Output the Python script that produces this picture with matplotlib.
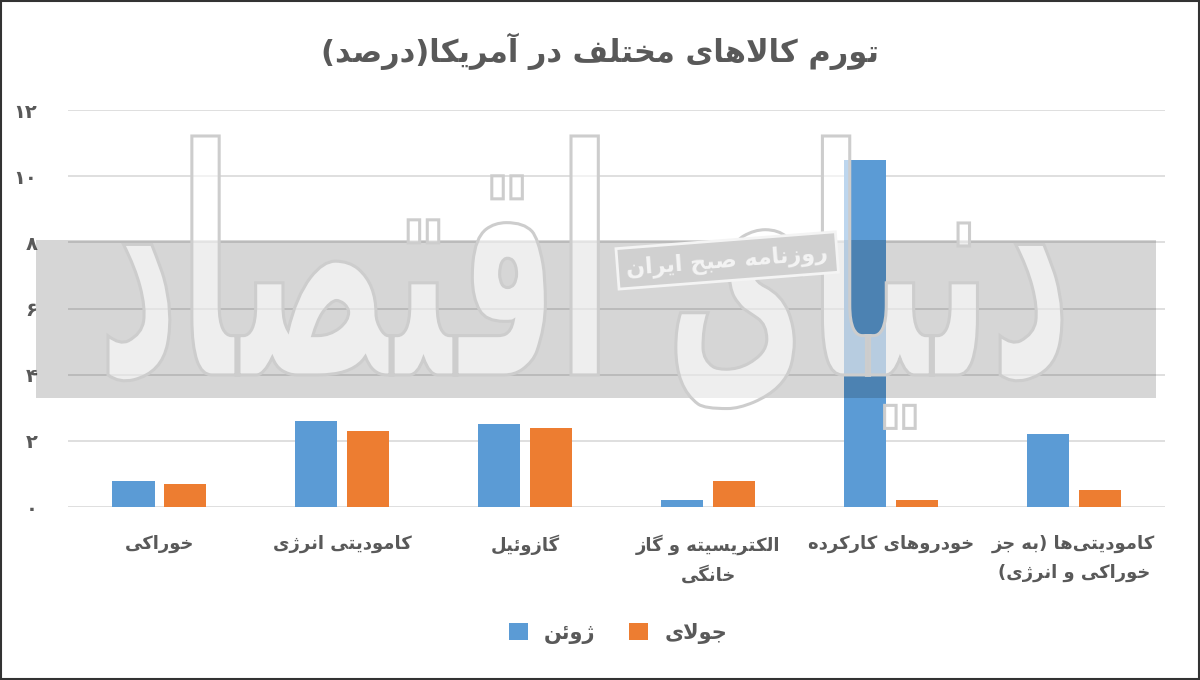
import matplotlib
matplotlib.use('Agg')
import matplotlib.pyplot as plt
from matplotlib.patches import Rectangle, PathPatch
from matplotlib.textpath import TextPath
from matplotlib.font_manager import FontProperties
from matplotlib.transforms import Affine2D
import numpy as np

# ============================================================
# داده‌ها
# ============================================================
categories = [
    'خوراکی',
    'کامودیتی انرژی',
    'گازوئیل',
    'الکتریسیته و گاز\nخانگی',
    'خودروهای کارکرده',
    'کامودیتی‌ها (به جز\nخوراکی و انرژی)',
]
june = [0.8, 2.6, 2.5, 0.2, 10.5, 2.2]
july = [0.7, 2.3, 2.4, 0.8, 0.2, 0.5]
series_names = ['ژوئن', 'جولای']
title = 'تورم کالاهای مختلف در آمریکا(درصد)'
y_ticks = [0, 2, 4, 6, 8, 10, 12]
stamp_text = 'روزنامه صبح ایران'
watermark_text = 'دنیای اقتصاد'

BLUE = '#5b9bd5'
ORANGE = '#ed7d31'
TEXT = '#595959'

# ============================================================
# شکل‌دهی ساده حروف فارسی (matplotlib خودش اتصال حروف را انجام نمی‌دهد)
# ============================================================
FORMS = {
    'ا': ('\uFE8D', '\uFE8E'),
    'آ': ('\uFE81', '\uFE82'),
    'ب': ('\uFE8F', '\uFE90', '\uFE91', '\uFE92'),
    'پ': ('\uFB56', '\uFB57', '\uFB58', '\uFB59'),
    'ت': ('\uFE95', '\uFE96', '\uFE97', '\uFE98'),
    'ج': ('\uFE9D', '\uFE9E', '\uFE9F', '\uFEA0'),
    'ح': ('\uFEA1', '\uFEA2', '\uFEA3', '\uFEA4'),
    'خ': ('\uFEA5', '\uFEA6', '\uFEA7', '\uFEA8'),
    'د': ('\uFEA9', '\uFEAA'),
    'ر': ('\uFEAD', '\uFEAE'),
    'ز': ('\uFEAF', '\uFEB0'),
    'ژ': ('\uFB8A', '\uFB8B'),
    'س': ('\uFEB1', '\uFEB2', '\uFEB3', '\uFEB4'),
    'ص': ('\uFEB9', '\uFEBA', '\uFEBB', '\uFEBC'),
    'ف': ('\uFED1', '\uFED2', '\uFED3', '\uFED4'),
    'ق': ('\uFED5', '\uFED6', '\uFED7', '\uFED8'),
    'ک': ('\uFB8E', '\uFB8F', '\uFB90', '\uFB91'),
    'گ': ('\uFB92', '\uFB93', '\uFB94', '\uFB95'),
    'ل': ('\uFEDD', '\uFEDE', '\uFEDF', '\uFEE0'),
    'م': ('\uFEE1', '\uFEE2', '\uFEE3', '\uFEE4'),
    'ن': ('\uFEE5', '\uFEE6', '\uFEE7', '\uFEE8'),
    'و': ('\uFEED', '\uFEEE'),
    'ه': ('\uFEE9', '\uFEEA', '\uFEEB', '\uFEEC'),
    'ی': ('\uFBFC', '\uFBFD', '\uFBFE', '\uFBFF'),
    'ئ': ('\uFE89', '\uFE8A', '\uFE8B', '\uFE8C'),
}
LAM_ALEF = {'ا': ('\uFEFB', '\uFEFC'), 'آ': ('\uFEF5', '\uFEF6')}
MIRROR = {'(': ')', ')': '('}


def shape_line(text):
    text = text.replace('ي', 'ی').replace('ك', 'ک')
    chars = list(text)
    n = len(chars)
    out = []

    def dual(c):
        return c in FORMS and len(FORMS[c]) == 4

    i = 0
    while i < n:
        c = chars[i]
        prev = chars[i - 1] if i > 0 else ''
        jp = dual(prev) and c in FORMS
        if c == 'ل' and i + 1 < n and chars[i + 1] in LAM_ALEF:
            lig = LAM_ALEF[chars[i + 1]]
            out.append(lig[1] if jp else lig[0])
            i += 2
            continue
        if c in FORMS:
            nxt = chars[i + 1] if i + 1 < n else ''
            jn = dual(c) and nxt in FORMS
            f = FORMS[c]
            if jp and jn:
                out.append(f[3])
            elif jp:
                out.append(f[1])
            elif jn:
                out.append(f[2])
            else:
                out.append(f[0])
        elif c != '\u200c':
            out.append(c)
        i += 1
    return ''.join(MIRROR.get(c, c) for c in reversed(out))


def fa(text):
    return '\n'.join(shape_line(line) for line in text.split('\n'))


def fa_digits(v):
    return str(v).translate(str.maketrans('0123456789', '۰۱۲۳۴۵۶۷۸۹'))


plt.rcParams['font.family'] = ['DejaVu Sans']

# ============================================================
# رسم
# ============================================================
fig = plt.figure(figsize=(12, 6.8), dpi=100)
ax = fig.add_axes([0.0567, 0.2544, 0.9143, 0.5838])

x = np.arange(len(categories))
w = 0.23
off = 0.142
ax.bar(x - off, june, w, color=BLUE, label=fa(series_names[0]), zorder=3)
ax.bar(x + off, july, w, color=ORANGE, label=fa(series_names[1]), zorder=3)

ax.set_xlim(-0.5, len(categories) - 0.5)
ax.set_ylim(0, 12)
ax.set_yticks(y_ticks)
ax.set_yticklabels([fa_digits(v) for v in y_ticks], fontsize=14,
                   fontweight='bold', color=TEXT)
ax.set_xticks(x)
ax.set_xticklabels([fa(c) for c in categories], fontsize=13,
                   fontweight='bold', color=TEXT, linespacing=1.75)
ax.tick_params(axis='both', length=0)
ax.tick_params(axis='x', pad=20)
ax.tick_params(axis='y', pad=22)
ax.grid(axis='y', color='#d9d9d9', linewidth=1.2, zorder=0)
for s in ax.spines.values():
    s.set_visible(False)

fig.text(0.5, 0.925, fa(title), ha='center', va='center', fontsize=22,
         fontweight='bold', color=TEXT)

leg = fig.legend(loc='center', bbox_to_anchor=(0.515, 0.069), ncol=2,
                 frameon=False, prop={'size': 15, 'weight': 'bold'},
                 handlelength=0.9, handleheight=0.9, columnspacing=1.6,
                 handletextpad=0.8)
for t in leg.get_texts():
    t.set_color(TEXT)

# نوار خاکستری واترمارک
band = Rectangle((0.03, 0.4147), 0.933, 0.2323, transform=fig.transFigure,
                 facecolor='black', alpha=0.16, edgecolor='none', zorder=5)
fig.add_artist(band)

# واترمارک دنیای اقتصاد: متن به صورت مسیر، کشیده در جعبه‌ای بزرگ
tp = TextPath((0, 0), fa(watermark_text), size=100,
              prop=FontProperties(family='DejaVu Sans', weight='bold'))
ext = tp.get_extents()
bx0, by0, bx1, by1 = 0.09, 0.37, 0.885, 0.80
tr = (Affine2D().translate(-ext.x0, -ext.y0)
      .scale((bx1 - bx0) / ext.width, (by1 - by0) / ext.height)
      .translate(bx0, by0))
wm = PathPatch(tr.transform_path(tp), transform=fig.transFigure,
               facecolor=(1, 1, 1, 0.6), edgecolor='#cdcdcd', linewidth=2.2,
               zorder=6)
fig.add_artist(wm)

fig.text(0.606, 0.617, fa(stamp_text), ha='center', va='center', fontsize=16,
         fontweight='bold', color='#f4f4f4', rotation=4.4, zorder=7,
         bbox=dict(boxstyle='square,pad=0.4', facecolor='#d0d0d0',
                   edgecolor='#f4f4f4', linewidth=2))

frame = Rectangle((0.001, 0.001), 0.998, 0.998, transform=fig.transFigure,
                  facecolor='none', edgecolor='#333333', linewidth=1.5,
                  zorder=10)
fig.add_artist(frame)

fig.savefig('out.png', dpi=100)
